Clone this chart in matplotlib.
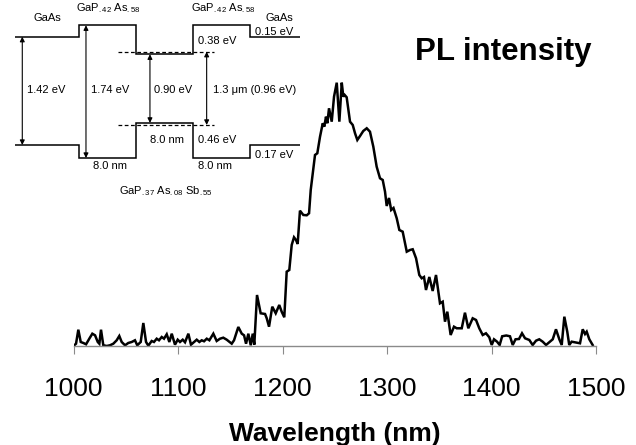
import matplotlib
matplotlib.use("Agg")
import matplotlib.pyplot as plt

plt.rcParams['font.family'] = ['Liberation Sans', 'DejaVu Sans']
plt.rcParams['mathtext.fontset'] = 'custom'
plt.rcParams['mathtext.rm'] = 'Liberation Sans'
plt.rcParams['mathtext.it'] = 'Liberation Sans:italic'
plt.rcParams['mathtext.bf'] = 'Liberation Sans:bold'

# ---------------- PL spectrum ----------------
wavelength = [1000, 1002.4, 1004.6, 1006.9, 1009.4, 1012.0, 1015.1, 1018.0, 1020.6, 1023.2,
              1024.7, 1026.3, 1028.5, 1031.8, 1034.9, 1038.1, 1041.3, 1043.8, 1046.1, 1049.3,
              1052.4, 1055.7, 1058.8, 1061.0, 1064.3, 1066.8, 1069.4, 1071.6, 1074.8, 1077.0,
              1079.6, 1081.8, 1084.4, 1086.6, 1089.2, 1091.7, 1094.0, 1097.1, 1099.7, 1101.9,
              1104.5, 1106.7, 1109.9, 1112.4, 1115.3, 1117.9, 1120.4, 1122.7, 1124.9, 1127.5,
              1130.0, 1133.8, 1137.0, 1140.2, 1143.3, 1146.6, 1151.4, 1153.6, 1157.7, 1161.0,
              1163.2, 1165.1, 1167.3, 1169.6, 1171.5, 1173.0, 1175.6, 1179.1, 1183.3, 1184.9,
              1187.1, 1190.2, 1193.5, 1196.9, 1199.2, 1201.7, 1204.0, 1206.5, 1208.8, 1211.0,
              1212.9, 1214.5, 1216.7, 1219.9, 1223.2, 1225.4, 1227.0, 1231.1, 1233.3, 1235.9,
              1238.5, 1240.0, 1241.6, 1242.9, 1244.5, 1247.1, 1249.3, 1251.9, 1254.4, 1256.7,
              1258.2, 1259.5, 1261.4, 1264.6, 1267.2, 1269.4, 1271.6, 1274.2, 1277.3, 1280.6,
              1283.7, 1286.9, 1290.1, 1293.3, 1295.9, 1298.1, 1299.7, 1301.9, 1304.0, 1306.2,
              1309.3, 1311.8, 1315.0, 1318.9, 1322.0, 1324.6, 1327.8, 1330.9, 1333.2, 1335.4,
              1337.3, 1340.5, 1343.7, 1346.9, 1350.7, 1353.3, 1355.5, 1357.7, 1360.9, 1364.1,
              1366.7, 1371.5, 1374.6, 1377.8, 1382.0, 1385.2, 1388.3, 1391.6, 1394.7, 1397.9,
              1400.2, 1402.4, 1405.3, 1407.8, 1410.2, 1414.1, 1417.7, 1420.3, 1423.0, 1426.3,
              1429.2, 1432.1, 1436.2, 1439.4, 1442.6, 1445.7, 1449.0, 1452.2, 1456.0, 1458.6,
              1461.7, 1464.9, 1467.2, 1469.7, 1472.5, 1474.4, 1476.7, 1481.5, 1484.7, 1487.3,
              1489.5, 1491.1, 1493.6, 1496.8]
intensity = [0, 2.3, 16.3, 4, 3, 1.7, 7.3, 12.3, 10.7, 4,
             2.3, 16.3, 0.7, 0, 0.7, 2.3, 5.7, 10, 4, 0.7,
             3, 4, 5.7, 0.7, 4, 23, 4, 0.3, 5, 4,
             7.3, 5.7, 9, 7.3, 11.7, 4, 12.3, 1.3, 6.3, 4,
             6.3, 3.7, 12.3, 1.3, 4, 6.3, 4, 5.7, 4.7, 7.3,
             5.7, 12.3, 5, 7.3, 8.3, 6.3, 2.3, 5.7, 19, 12.3,
             10.7, 2.3, 12.3, 0.7, 12.3, 1.3, 51, 32.7, 32, 27.7,
             19.3, 39.3, 32.7, 41, 34.3, 28.7, 74.3, 76, 101, 108.7,
             106, 102, 135.3, 131, 130.7, 132.7, 156, 191, 192.7, 209.3,
             222.7, 219.3, 229.3, 222.7, 237.7, 224.3, 249.3, 263.3, 224.3, 263.3,
             249.3, 251, 248.7, 224.3, 221, 212.7, 206, 210, 215, 217.7,
             214.3, 199.3, 179.3, 167.7, 166, 154.3, 140, 148, 136, 138,
             127.7, 116, 114.3, 94.3, 96, 96.7, 87.7, 71, 67.7, 69,
             56, 69, 55, 71, 42.7, 44.3, 24.3, 34.3, 11, 19.3,
             17.7, 17.7, 33.3, 17.7, 27.7, 26, 17.7, 11, 12.7, 8.7,
             1, 6.7, 4.3, 1, 9.7, 10.5, 9.7, 1, 6.7, 7,
             12.7, 7.7, 6, 1, 5.3, 6.7, 4.3, 1, 4.3, 6.7,
             16.7, 6.7, 1, 29.3, 14.3, 1, 4.3, 3.3, 2.7, 16.7,
             12, 14.3, 6.7, 1]
x_ticks = [1000, 1100, 1200, 1300, 1400, 1500]

# ---------------- Band diagram (inset) ----------------
layer_edges = [-9, 0, 8, 16, 24, 31]          # nm
cb_levels = [1.42, 1.57, 1.19, 1.57, 1.42]    # eV
vb_levels = [0.0, -0.17, 0.29, -0.17, 0.0]    # eV
state_e, state_h = 1.223, 0.263               # confined levels (dashed)
state_span = [5.5, 19.0]
arrows = [(-7.96, 1.42, 0.0), (0.98, 1.57, -0.17), (9.96, 1.19, 0.29), (17.92, state_e, state_h)]

fig = plt.figure(figsize=(6.36, 4.45), dpi=100)

ax = fig.add_axes([0.1156, 0.2225, 0.8215, 0.6742])
ax.plot(wavelength, intensity, color='black', lw=1.8, solid_joinstyle='miter')
ax.set_xlim(1000, 1500)
ax.set_ylim(0, 300)
for s in ['top', 'right', 'left']:
    ax.spines[s].set_visible(False)
ax.spines['bottom'].set_color('#8a8a8a')
ax.spines['bottom'].set_linewidth(1.0)
ax.set_yticks([])
ax.set_xticks(x_ticks)
ax.set_xticklabels([str(t) for t in x_ticks])
ax.tick_params(axis='x', direction='out', length=6, width=0.8, color='#8a8a8a',
               labelsize=19, pad=16, labelcolor='black')
ax.patch.set_alpha(0)

fig.text(335 / 636, 4 / 445, 'Wavelength (nm)', ha='center', va='baseline',
         fontsize=19, fontweight='bold')
fig.text(503 / 636, (445 - 52) / 445, 'PL intensity', ha='center', va='center',
         fontsize=22.5, fontweight='bold')

# inset
ins = fig.add_axes([0, 0.5506, 0.5031, 0.4494])
ins.set_xlim(-11.088, 33.825)
ins.set_ylim(-0.720, 1.901)
ins.axis('off')
ins.patch.set_alpha(0)

ins.stairs(cb_levels, layer_edges, color='black', lw=1.1, baseline=None)
ins.stairs(vb_levels, layer_edges, color='black', lw=1.1, baseline=None)
ins.plot(state_span, [state_e, state_e], color='black', lw=0.9, ls=(0, (3, 2)))
ins.plot(state_span, [state_h, state_h], color='black', lw=0.9, ls=(0, (3, 2)))
for x, top, bot in arrows:
    ins.annotate('', xy=(x, top), xytext=(x, bot),
                 arrowprops=dict(arrowstyle='<|-|>', lw=0.8, color='black',
                                 mutation_scale=7, shrinkA=0, shrinkB=0))

fs = 8
ins.text(-4.49, 1.661, 'GaAs', ha='center', va='center', fontsize=fs)
ins.text(28.07, 1.661, 'GaAs', ha='center', va='center', fontsize=fs)
ins.text(4.07, 1.80, r'GaP$_{.42}$ As$_{.58}$', ha='center', va='center', fontsize=fs)
ins.text(20.2, 1.80, r'GaP$_{.42}$ As$_{.58}$', ha='center', va='center', fontsize=fs)
ins.text(24.7, 1.486, '0.15 eV', ha='left', va='center', fontsize=fs)
ins.text(16.7, 1.368, '0.38 eV', ha='left', va='center', fontsize=fs)
ins.text(-7.26, 0.721, '1.42 eV', ha='left', va='center', fontsize=fs)
ins.text(1.64, 0.721, '1.74 eV', ha='left', va='center', fontsize=fs)
ins.text(10.53, 0.721, '0.90 eV', ha='left', va='center', fontsize=fs)
ins.text(18.85, 0.721, '1.3 μm (0.96 eV)', ha='left', va='center', fontsize=fs)
ins.text(12.3, 0.066, '8.0 nm', ha='center', va='center', fontsize=fs)
ins.text(16.7, 0.066, '0.46 eV', ha='left', va='center', fontsize=fs)
ins.text(24.7, -0.130, '0.17 eV', ha='left', va='center', fontsize=fs)
ins.text(4.35, -0.271, '8.0 nm', ha='center', va='center', fontsize=fs)
ins.text(19.1, -0.271, '8.0 nm', ha='center', va='center', fontsize=fs)
ins.text(12.2, -0.598, r'GaP$_{.37}$ As$_{.08}$ Sb$_{.55}$', ha='center', va='center', fontsize=fs)

fig.savefig('out.png', dpi=100)
